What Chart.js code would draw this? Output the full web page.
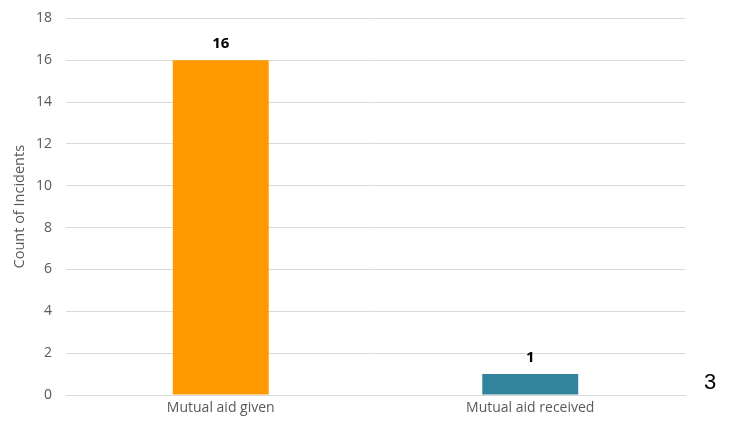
<!DOCTYPE html>
<html>
<head>
<meta charset="utf-8">
<script src="https://cdn.jsdelivr.net/npm/chart.js@4/dist/chart.umd.min.js"></script>
<style>
html,body{margin:0;padding:0;background:#fff;overflow:hidden;}
#wrap{position:relative;width:730px;height:421px;overflow:hidden;}
#c{position:absolute;left:0;top:-4px;}
#pg{position:absolute;left:704px;top:369px;font-family:"Liberation Sans",Arial,sans-serif;font-size:22px;color:#000;}
</style>
</head>
<body>
<div id="wrap">
<canvas id="c" width="730" height="425"></canvas>
<div id="pg">3</div>
</div>
<script>
const categories = ["Mutual aid given", "Mutual aid received"];
const counts = [16, 1];
const barColors = ["#FF9900", "#31849B"];
const yTicks = [0, 2, 4, 6, 8, 10, 12, 14, 16, 18];
const yTitle = "Count of Incidents";

const FONT = "'Open Sans', 'Liberation Sans', sans-serif";

const labelPlugin = {
  id: "valueLabels",
  afterDatasetsDraw(chart) {
    const ctx = chart.ctx;
    const meta = chart.getDatasetMeta(0);
    ctx.save();
    ctx.font = "bold 15px " + FONT;
    ctx.fillStyle = "#000";
    ctx.textAlign = "center";
    ctx.textBaseline = "bottom";
    meta.data.forEach((bar, i) => {
      ctx.fillText(String(counts[i]), bar.x, bar.y - 9);
    });
    // y-axis title
    const a = chart.chartArea;
    ctx.translate(20, (a.top + a.bottom) / 2);
    ctx.rotate(-Math.PI / 2);
    ctx.font = "14.5px " + FONT;
    ctx.fillStyle = "#595959";
    ctx.textBaseline = "middle";
    ctx.fillText(yTitle, 0, 0);
    ctx.restore();
  }
};

new Chart(document.getElementById("c"), {
  type: "bar",
  data: {
    labels: categories,
    datasets: [{
      data: counts,
      backgroundColor: barColors,
      borderWidth: 0,
      barPercentage: 0.31,
      categoryPercentage: 1.0
    }]
  },
  options: {
    responsive: false,
    animation: false,
    layout: { padding: { left: 22, right: 45, top: 0, bottom: 0 } },
    plugins: { legend: { display: false }, tooltip: { enabled: false } },
    scales: {
      x: {
        grid: { display: false, drawTicks: false },
        border: { display: true, color: "#D9D9D9", width: 1 },
        ticks: { color: "#595959", font: { family: FONT, size: 14, lineHeight: 1 }, padding: 6 }
      },
      y: {
        min: 0, max: 18,
        afterBuildTicks(axis) { axis.ticks = yTicks.map(v => ({ value: v })); },
        grid: { color: "#D9D9D9", drawTicks: false },
        border: { display: false },
        ticks: { color: "#595959", font: { family: FONT, size: 14 }, padding: 14 }
      }
    }
  },
  plugins: [labelPlugin]
});
</script>
</body>
</html>
